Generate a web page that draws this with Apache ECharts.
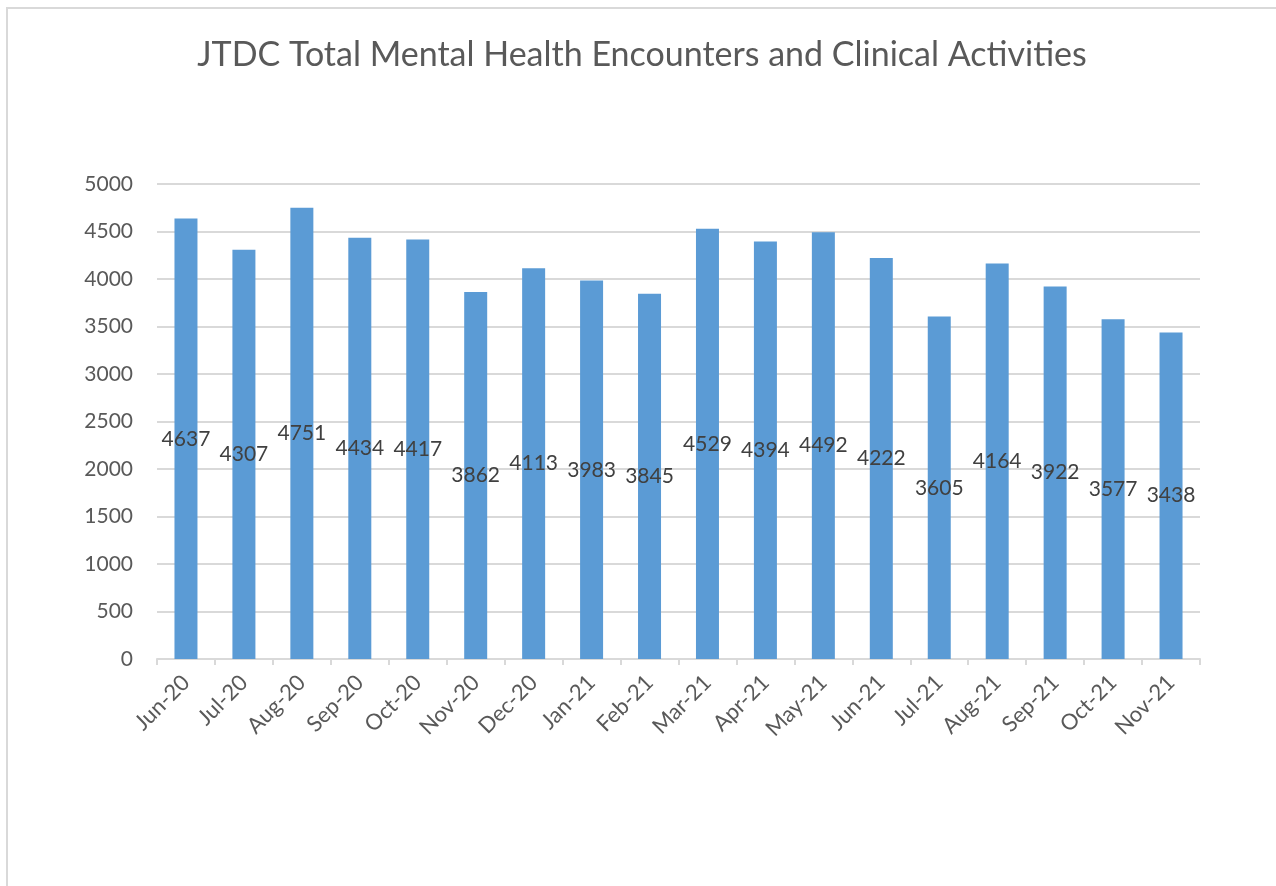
<!DOCTYPE html>
<html>
<head>
<meta charset="utf-8">
<script src="https://cdn.jsdelivr.net/npm/echarts@6/dist/echarts.min.js"></script>
<style>
  html, body { margin: 0; padding: 0; background: #fff; overflow: hidden; }
  #frame { position: absolute; left: 6px; top: 7px; width: 1300px; height: 900px;
           border-left: 2px solid #d9d9d9; border-top: 2px solid #d9d9d9; }
  #chart { width: 1268px; height: 877px; }
</style>
</head>
<body>
<div id="frame"><div id="chart"></div></div>
<script>
var months = ['Jun-20', 'Jul-20', 'Aug-20', 'Sep-20', 'Oct-20', 'Nov-20', 'Dec-20', 'Jan-21', 'Feb-21',
              'Mar-21', 'Apr-21', 'May-21', 'Jun-21', 'Jul-21', 'Aug-21', 'Sep-21', 'Oct-21', 'Nov-21'];
var encounters = [4637, 4307, 4751, 4434, 4417, 3862, 4113, 3983, 3845,
                  4529, 4394, 4492, 4222, 3605, 4164, 3922, 3577, 3438];

var font = 'Lato, "Open Sans", sans-serif';

var myChart = echarts.init(document.getElementById('chart'));
var option = {
    animation: false,
    title: {
        text: 'JTDC Total Mental Health Encounters and Clinical Activities',
        left: 'center',
        top: 24,
        textStyle: { fontFamily: font, fontSize: 34, fontWeight: 'normal', color: '#595959' }
    },
    grid: { left: 149, right: 76, top: 175, bottom: 227 },
    xAxis: {
        type: 'category',
        data: months,
        axisLine: { lineStyle: { color: '#d9d9d9', width: 2 } },
        axisTick: { show: true, length: 6, lineStyle: { color: '#d9d9d9', width: 2 } },
        axisLabel: { rotate: 45, margin: 20, fontFamily: font, fontSize: 22, color: '#595959', interval: 0 }
    },
    yAxis: {
        type: 'value',
        min: 0,
        max: 5000,
        interval: 500,
        axisLine: { show: false },
        axisTick: { show: false },
        splitLine: { lineStyle: { color: '#d9d9d9', width: 2 } },
        axisLabel: {
            margin: 24, fontFamily: font, fontSize: 21, color: '#595959',
            formatter: function (v) { return String(v); }
        }
    },
    series: [{
        type: 'bar',
        data: encounters,
        barWidth: 23,
        itemStyle: { color: '#5b9bd5' },
        label: {
            show: true,
            position: 'inside',
            fontFamily: font,
            fontSize: 21,
            color: '#404040'
        }
    }]
};
myChart.setOption(option);
</script>
</body>
</html>
